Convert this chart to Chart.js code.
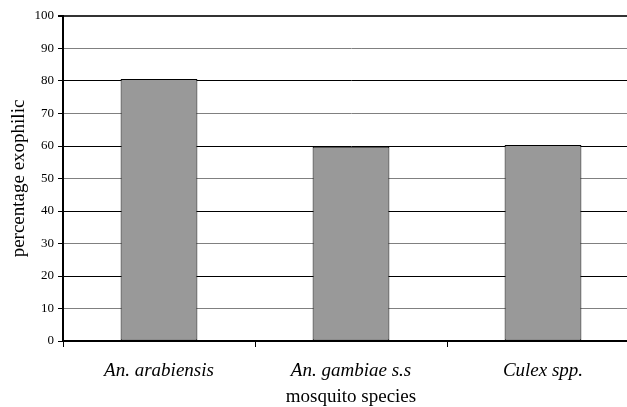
<!DOCTYPE html>
<html>
<head>
<meta charset="utf-8">
<script src="https://cdn.jsdelivr.net/npm/chart.js@4/dist/chart.umd.min.js"></script>
<style>
  html, body { margin: 0; padding: 0; background: #fff; overflow: hidden; }
  #wrap { width: 640px; height: 407px; }
</style>
</head>
<body>
<div id="wrap"><canvas id="c" width="640" height="407"></canvas></div>
<script>
const categories = ["An. arabiensis", "An. gambiae s.s", "Culex spp."];
const exophilicPercent = [80.6, 59.8, 60.3];
const yTicks = [0, 10, 20, 30, 40, 50, 60, 70, 80, 90, 100];

const serif = "'Liberation Serif', 'Times New Roman', serif";

new Chart(document.getElementById('c'), {
  type: 'bar',
  data: {
    labels: categories,
    datasets: [{
      data: exophilicPercent,
      backgroundColor: '#999999',
      borderColor: '#000000',
      borderWidth: 1,
      borderSkipped: false,
      barPercentage: 0.4,
      categoryPercentage: 1.0
    }]
  },
  options: {
    responsive: false,
    animation: false,
    devicePixelRatio: 1,
    layout: { padding: { top: 16, right: 1, left: 0, bottom: 0 } },
    plugins: { legend: { display: false }, tooltip: { enabled: false } },
    scales: {
      x: {
        offset: true,
        grid: {
          offset: true,
          drawOnChartArea: false,
          drawTicks: true,
          tickLength: 6,
          color: '#000',
          lineWidth: 1
        },
        border: { color: '#000', width: 2 },
        ticks: {
          color: '#000',
          padding: 13,
          font: { family: serif, size: 19, style: 'italic' }
        },
        title: {
          display: true,
          text: 'mosquito species',
          color: '#000',
          padding: { top: 0, bottom: 0 },
          font: { family: serif, size: 19, lineHeight: 1 }
        },
        afterFit: (s) => { s.height = 66; }
      },
      y: {
        min: 0,
        max: 100,
        afterBuildTicks: (s) => { s.ticks = yTicks.map(v => ({ value: v })); },
        grid: {
          color: (ctx) => {
            const v = ctx.tick ? ctx.tick.value : 0;
            if (v === 100) return '#333';
            return (v % 20 === 0) ? '#000' : '#808080';
          },
          lineWidth: (ctx) => (ctx.tick && ctx.tick.value === 100) ? 2 : 1,
          tickColor: '#000',
          tickLength: 5,
          drawTicks: true
        },
        border: { color: '#000', width: 2 },
        ticks: {
          color: '#000',
          padding: 4,
          font: { family: serif, size: 13 }
        },
        title: {
          display: true,
          text: 'percentage exophilic',
          color: '#000',
          padding: { top: 8, bottom: 0 },
          font: { family: serif, size: 19 }
        },
        afterFit: (s) => { s.width = 63; }
      }
    }
  }
});
</script>
</body>
</html>
